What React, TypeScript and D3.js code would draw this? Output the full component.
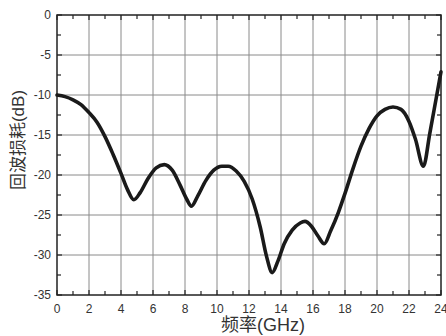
import { useRef, useEffect } from "react";
import * as d3 from "d3";

// frequency (GHz) and return loss (dB)
const freq = [
  0, 0.5, 1, 1.5, 2, 2.5, 3, 3.5, 4, 4.4, 4.8, 5.2, 5.7, 6.2, 6.7, 7.2, 7.7, 8.1, 8.4, 8.8,
  9.3, 9.8, 10.3, 10.7, 11.2, 11.7, 12.2, 12.7, 13.1, 13.45, 13.8, 14.2, 14.7, 15.2, 15.5,
  15.9, 16.3, 16.7, 17.1, 17.6, 18, 18.5, 19, 19.5, 20, 20.5, 21, 21.5, 22, 22.4, 22.9,
  23.3, 23.7, 24,
];
const returnLoss = [
  -10, -10.2, -10.6, -11.2, -12.2, -13.4, -15.2, -17.4, -19.8, -21.8, -23.1, -22.2, -20.4,
  -19.1, -18.7, -19.4, -21.3, -23.0, -23.9, -22.6, -20.7, -19.4, -18.9, -18.9, -19.5, -20.8,
  -23, -26.5, -30.2, -32.2, -30.8, -28.6, -26.9, -26, -25.8, -26.4, -27.6, -28.6, -27,
  -24.6, -22.3, -19.2, -16.4, -14.2, -12.6, -11.8, -11.5, -11.8, -13.3, -15.5, -18.9,
  -14.8, -10.4, -7.1,
];

const xTicks = [0, 2, 4, 6, 8, 10, 12, 14, 16, 18, 20, 22, 24];
const yTicks = [0, -5, -10, -15, -20, -25, -30, -35];
const xLabel = "频率(GHz)";
const yLabel = "回波损耗(dB)";

export default function App() {
  const svgRef = useRef<SVGSVGElement>(null);

  useEffect(() => {
    const width = 446;
    const height = 336;
    const left = 57, right = 441, top = 15, bottom = 295;
    const font = "'Liberation Sans', Arial, 'Noto Sans CJK SC', sans-serif";

    const svg = d3.select(svgRef.current);
    svg.selectAll("*").remove();
    svg.attr("width", width).attr("height", height);

    const x = d3.scaleLinear().domain([0, 24]).range([left, right]);
    const y = d3.scaleLinear().domain([-35, 0]).range([bottom, top]);

    svg.append("rect").attr("width", width).attr("height", height).attr("fill", "#fff");

    // grid
    svg.selectAll(".gx")
      .data(xTicks.slice(1, -1))
      .enter()
      .append("line")
      .attr("x1", (d) => x(d)).attr("x2", (d) => x(d))
      .attr("y1", top).attr("y2", bottom)
      .attr("stroke", "#8a8a8a").attr("stroke-width", 1);
    svg.selectAll(".gy")
      .data(yTicks.slice(1, -1))
      .enter()
      .append("line")
      .attr("x1", left).attr("x2", right)
      .attr("y1", (d) => y(d)).attr("y2", (d) => y(d))
      .attr("stroke", "#8a8a8a").attr("stroke-width", 1);

    // inward ticks on all four sides
    const xMinor = d3.range(0, 25, 1);
    const yMinor = d3.range(-35, 0.1, 2.5);
    const tick = (x1, y1, x2, y2) =>
      svg.append("line")
        .attr("x1", x1).attr("y1", y1).attr("x2", x2).attr("y2", y2)
        .attr("stroke", "#222").attr("stroke-width", 1.2);
    xMinor.forEach((v) => {
      const len = v % 2 === 0 ? 5 : 4;
      tick(x(v), bottom, x(v), bottom - len);
      tick(x(v), top, x(v), top + len);
    });
    yMinor.forEach((v) => {
      const len = v % 5 === 0 ? 5 : 4;
      tick(left, y(v), left + len, y(v));
      tick(right, y(v), right - len, y(v));
    });

    // frame
    svg.append("rect")
      .attr("x", left).attr("y", top)
      .attr("width", right - left).attr("height", bottom - top)
      .attr("fill", "none").attr("stroke", "#222").attr("stroke-width", 1.5);

    // curve
    const pts = freq.map((f, i) => [f, returnLoss[i]] as [number, number]);
    const line = d3.line<[number, number]>()
      .x((d) => x(d[0]))
      .y((d) => y(d[1]))
      .curve(d3.curveMonotoneX);
    svg.append("path")
      .attr("d", line(pts))
      .attr("fill", "none")
      .attr("stroke", "#1a1a1a")
      .attr("stroke-width", 3.6)
      .attr("stroke-linejoin", "round")
      .attr("stroke-linecap", "round");

    // tick labels
    svg.selectAll(".xl")
      .data(xTicks)
      .enter()
      .append("text")
      .attr("x", (d) => x(d))
      .attr("y", 313)
      .attr("text-anchor", "middle")
      .attr("font-family", font)
      .attr("font-size", "12px")
      .attr("fill", "#333")
      .text((d) => d);
    svg.selectAll(".yl")
      .data(yTicks)
      .enter()
      .append("text")
      .attr("x", 51)
      .attr("y", (d) => y(d) + 4)
      .attr("text-anchor", "end")
      .attr("font-family", font)
      .attr("font-size", "12px")
      .attr("fill", "#333")
      .text((d) => d);

    // axis titles
    svg.append("text")
      .attr("x", 263)
      .attr("y", 331)
      .attr("text-anchor", "middle")
      .attr("font-family", font)
      .attr("font-size", "18px")
      .attr("fill", "#333")
      .text(xLabel);
    svg.append("text")
      .attr("transform", "translate(24,140) rotate(-90)")
      .attr("text-anchor", "middle")
      .attr("font-family", font)
      .attr("font-size", "17px")
      .attr("fill", "#333")
      .text(yLabel);
  }, []);

  return <svg ref={svgRef} style={{ position: "absolute", left: 0, top: 0 }} />;
}
